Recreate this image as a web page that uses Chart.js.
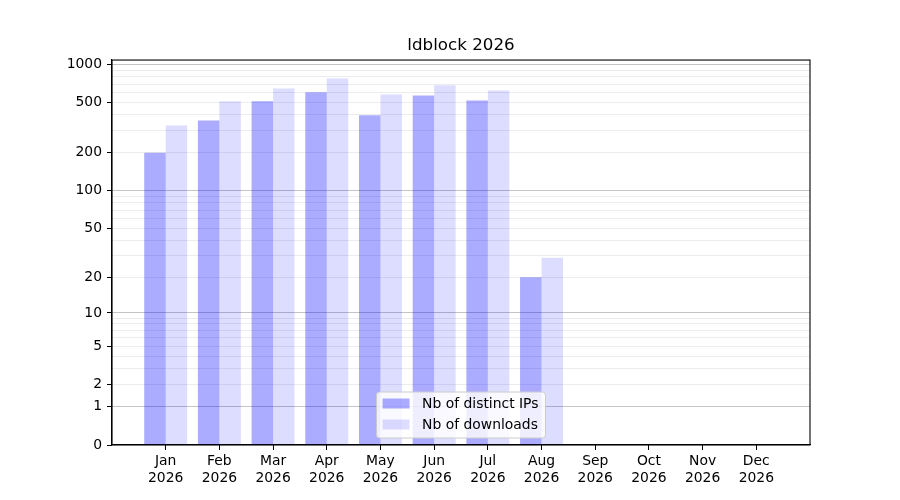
<!DOCTYPE html>
<html>
<head>
<meta charset="utf-8">
<script src="https://cdn.jsdelivr.net/npm/chart.js@4/dist/chart.umd.min.js"></script>
<style>
  html, body { margin: 0; padding: 0; background: #fff; }
  #wrap { width: 900px; height: 500px; }
</style>
</head>
<body>
<div id="wrap"><canvas id="grafico" width="900" height="500"></canvas></div>
<script>
// datos
const months = ['Jan', 'Feb', 'Mar', 'Apr', 'May', 'Jun', 'Jul', 'Aug', 'Sep', 'Oct', 'Nov', 'Dec'];
const year = '2026';
const distinctIPs = [200, 361, 511, 602, 396, 569, 520, 20, 0, 0, 0, 0];
const downloads = [330, 511, 647, 776, 580, 686, 623, 29, 0, 0, 0, 0];
const yLabels = [0, 1, 2, 5, 10, 20, 50, 100, 200, 500, 1000];
const yMajor = [1, 10, 100, 1000];
const yGrid = [0, 1, 2, 3, 4, 5, 6, 7, 8, 9, 10, 20, 30, 40, 50, 60, 70, 80, 90,
               100, 200, 300, 400, 500, 600, 700, 800, 900, 1000];
const yMax = 1083;

// escala log10(x+1)
const f = v => Math.log10(v + 1);
class Log1pScale extends Chart.LinearScale {
    static id = 'log1p';
    static defaults = {};
    buildTicks() {
        return yGrid.map(v => ({ value: v }));
    }
    configure() {
        super.configure();
        this._tmin = f(this.min);
        this._tmax = f(this.max);
    }
    getPixelForValue(value) {
        if (value === null || value === undefined || isNaN(value)) return NaN;
        return this.getPixelForDecimal((f(value) - this._tmin) / (this._tmax - this._tmin));
    }
    getValueForPixel(pixel) {
        const d = this.getDecimalForPixel(pixel);
        return Math.pow(10, this._tmin + d * (this._tmax - this._tmin)) - 1;
    }
}
Chart.register(Log1pScale);

Chart.defaults.font.family = 'DejaVu Sans';
Chart.defaults.font.size = 13.9;
Chart.defaults.color = '#000';

const colorIPs = 'rgba(0, 0, 255, 0.33)';
const colorDl = 'rgba(0, 0, 255, 0.135)';

// etiquetas con un hueco a cada lado
const labels = [''].concat(months.map(m => [m, year])).concat(['']);
const pad = arr => [null].concat(arr).concat([null]);

const cajaPlugin = {
    id: 'caja',
    afterDatasetsDraw(chart) {
        const a = chart.chartArea;
        const ctx = chart.ctx;
        ctx.save();
        ctx.strokeStyle = '#000';
        ctx.lineWidth = 1.1;
        ctx.strokeRect(a.left, a.top, a.right - a.left, a.bottom - a.top);

        // leyenda abajo al centro
        const items = chart.data.datasets.map(d => ({ text: d.label, color: d.backgroundColor }));
        ctx.font = '13.9px "DejaVu Sans"';
        const tw = Math.max(...items.map(i => ctx.measureText(i.text).width));
        const w = 6 + 27 + 12.5 + tw + 7;
        const h = 46;
        const x = (a.left + a.right) / 2 - w / 2;
        const y = a.bottom - 7 - h;
        ctx.beginPath();
        ctx.roundRect(x, y, w, h, 3);
        ctx.fillStyle = 'rgba(255,255,255,0.8)';
        ctx.fill();
        ctx.strokeStyle = '#cccccc';
        ctx.lineWidth = 1;
        ctx.stroke();
        items.forEach((it, i) => {
            const cy = y + 11.5 + i * 21;
            ctx.fillStyle = it.color;
            ctx.fillRect(x + 6, cy - 5, 27, 10);
            ctx.fillStyle = '#000';
            ctx.textBaseline = 'middle';
            ctx.textAlign = 'left';
            ctx.fillText(it.text, x + 6 + 27 + 12.5, cy + 1);
        });
        ctx.restore();
    }
};

const ctx = document.getElementById('grafico').getContext('2d');
new Chart(ctx, {
    type: 'bar',
    data: {
        labels: labels,
        datasets: [{
            label: 'Nb of distinct IPs',
            data: pad(distinctIPs),
            backgroundColor: colorIPs,
            borderWidth: 0,
            inflateAmount: 0
        }, {
            label: 'Nb of downloads',
            data: pad(downloads),
            backgroundColor: colorDl,
            borderWidth: 0,
            inflateAmount: 0
        }]
    },
    options: {
        responsive: false,
        animation: false,
        categoryPercentage: 0.8,
        barPercentage: 1.0,
        layout: { padding: { left: 0, right: 90, top: 0, bottom: 0 } },
        plugins: {
            legend: { display: false },
            tooltip: { enabled: false },
            title: {
                display: true,
                text: 'ldblock 2026',
                fullSize: false,
                font: { size: 16.7, weight: 'normal' },
                color: '#000',
                padding: { top: 36, bottom: 4 }
            }
        },
        scales: {
            x: {
                offset: false,
                grid: {
                    offset: false,
                    drawOnChartArea: false,
                    tickLength: 5,
                    tickColor: c => (c.index === 0 || c.index === labels.length - 1) ? 'rgba(0,0,0,0)' : '#000'
                },
                border: { color: '#000', width: 1.1 },
                ticks: { autoSkip: false, maxRotation: 0, padding: 3 },
                afterFit: s => { s.height = 55; }
            },
            y: {
                type: 'log1p',
                min: 0,
                max: yMax,
                grid: {
                    color: c => c.tick.value === 0 ? 'rgba(0,0,0,0)' : (yMajor.includes(c.tick.value) ? '#c4c4c4' : '#ececec'),
                    tickColor: c => yLabels.includes(c.tick.value) ? '#000' : 'rgba(0,0,0,0)',
                    tickLength: 5
                },
                border: { color: '#000', width: 1.1 },
                ticks: {
                    autoSkip: false,
                    padding: 5,
                    callback: v => yLabels.includes(v) ? String(v) : ''
                },
                afterFit: s => { s.width = 112; }
            }
        }
    },
    plugins: [cajaPlugin]
});
</script>
</body>
</html>
